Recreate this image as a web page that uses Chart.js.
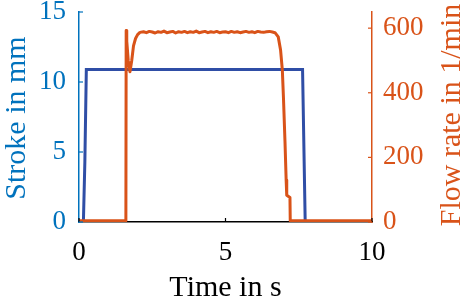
<!DOCTYPE html>
<html>
<head>
<meta charset="utf-8">
<script src="https://cdn.jsdelivr.net/npm/chart.js@4.4.1/dist/chart.umd.min.js"></script>
<style>
  html, body { margin: 0; padding: 0; background: #fff; }
  #wrap { width: 465px; height: 301px; position: relative; }
</style>
</head>
<body>
<div id="wrap"><canvas id="chart"></canvas></div>
<script>
// stroke (left axis, mm) vs time (s)
const strokeTime = [0, 0.15, 0.2, 0.25, 7.63, 7.72, 10];
const strokeMm   = [0, 0, 4.3, 10.9, 10.9, 0, 0];

// flow rate (right axis, l/min) vs time (s)
const flowTime = [0, 1.6, 1.61, 1.63, 1.68, 1.74, 1.8, 1.86, 1.93, 2.0, 2.08,
  2.2, 2.3, 2.4, 2.5, 2.6, 2.7, 2.8, 2.9, 3.0, 3.1, 3.2, 3.3, 3.4, 3.5, 3.6, 3.7, 3.8, 3.9,
  4.0, 4.1, 4.2, 4.3, 4.4, 4.5, 4.6, 4.7, 4.8, 4.9, 5.0, 5.1, 5.2, 5.3, 5.4, 5.5, 5.6, 5.7,
  5.8, 5.9, 6.0, 6.1, 6.2, 6.3, 6.4, 6.5, 6.6, 6.69, 6.8, 6.88, 6.94, 6.98, 7.03, 7.07,
  7.09, 7.2, 7.21, 10];
const flowRate = [4, 4, 593, 560, 500, 465, 500, 545, 568, 580, 587,
  589, 586, 590, 588, 585, 589, 587, 591, 586, 588, 590, 585, 589, 587, 590, 586, 589, 587,
  591, 586, 588, 590, 586, 589, 587, 590, 586, 588, 589, 586, 590, 587, 589, 586, 588, 590,
  587, 589, 586, 590, 588, 587, 589, 590, 588, 586, 573, 532, 470, 380, 250, 130,
  83, 76, 4, 4];

const xTicks = [0, 5, 10];
const strokeTicks = [0, 5, 10, 15];
const flowTicks = [0, 200, 400, 600];

const BLUE_LINE = '#2F4EA6';
const BLUE_AXIS = '#0072BD';
const ORANGE = '#D95319';
const FONT = '"Liberation Serif", "Times New Roman", serif';

function pts(xs, ys) { return xs.map((x, i) => ({ x, y: ys[i] })); }

function fixBox(size, horizontal) {
  return s => {
    if (horizontal) s.height = size; else s.width = size;
    s.paddingTop = 0; s.paddingBottom = 0; s.paddingLeft = 0; s.paddingRight = 0;
  };
}
function keepTicks(list) {
  return s => { s.ticks = list.map(v => ({ value: v })); };
}

// small inward tick marks like the original
const innerTicks = {
  id: 'innerTicks',
  afterDatasetsDraw(chart) {
    const { ctx, chartArea: a, scales } = chart;
    const len = 4;
    ctx.save();
    ctx.lineWidth = 1.2;
    ctx.strokeStyle = '#000';
    scales.x.ticks.forEach(t => {
      const px = scales.x.getPixelForValue(t.value);
      ctx.beginPath(); ctx.moveTo(px, a.bottom); ctx.lineTo(px, a.bottom - len); ctx.stroke();
    });
    ctx.strokeStyle = BLUE_AXIS;
    scales.y.ticks.forEach(t => {
      const py = scales.y.getPixelForValue(t.value);
      ctx.beginPath(); ctx.moveTo(a.left, py); ctx.lineTo(a.left + len, py); ctx.stroke();
    });
    ctx.strokeStyle = ORANGE;
    scales.y1.ticks.forEach(t => {
      const py = scales.y1.getPixelForValue(t.value);
      ctx.beginPath(); ctx.moveTo(a.right, py); ctx.lineTo(a.right - len, py); ctx.stroke();
    });
    ctx.restore();
  }
};

// axis titles (right one reads bottom-to-top, as in the original)
const axisTitles = {
  id: 'axisTitles',
  afterDraw(chart) {
    const { ctx, chartArea: a } = chart;
    const cy = (a.top + a.bottom) / 2;
    ctx.save();
    ctx.font = '30px ' + FONT;
    ctx.textAlign = 'center';
    ctx.textBaseline = 'alphabetic';
    ctx.fillStyle = '#000';
    ctx.fillText('Time in s', (a.left + a.right) / 2, a.bottom + 74);

    ctx.save();
    ctx.translate(a.left - 54, cy + 1);
    ctx.rotate(-Math.PI / 2);
    ctx.fillStyle = BLUE_AXIS;
    ctx.fillText('Stroke in mm', 0, 0);
    ctx.restore();

    ctx.save();
    ctx.translate(a.right + 88, cy - 2);
    ctx.rotate(-Math.PI / 2);
    ctx.fillStyle = ORANGE;
    ctx.fillText('Flow rate in 1/min', 0, 0);
    ctx.restore();
    ctx.restore();
  }
};

new Chart(document.getElementById('chart'), {
  type: 'line',
  data: {
    datasets: [
      { label: 'Flow rate', data: pts(flowTime, flowRate), yAxisID: 'y1',
        borderColor: ORANGE, borderWidth: 3, pointRadius: 0, tension: 0, borderJoinStyle: 'round' },
      { label: 'Stroke', data: pts(strokeTime, strokeMm), yAxisID: 'y',
        borderColor: BLUE_LINE, borderWidth: 3, pointRadius: 0, tension: 0 }
    ]
  },
  options: {
    responsive: true,
    maintainAspectRatio: false,
    animation: false,
    layout: { padding: { top: 12, left: 0, right: 0, bottom: 0 } },
    plugins: { legend: { display: false }, tooltip: { enabled: false } },
    scales: {
      x: {
        type: 'linear', min: 0, max: 10,
        grid: { display: false, drawTicks: false },
        border: { display: true, color: '#000', width: 1.5 },
        ticks: { color: '#000', font: { family: FONT, size: 27 }, padding: 15, maxRotation: 0 },
        afterBuildTicks: keepTicks(xTicks),
        afterFit: fixBox(79, true)
      },
      y: {
        type: 'linear', position: 'left', min: 0, max: 15,
        grid: { display: false, drawTicks: false },
        border: { display: true, color: BLUE_AXIS, width: 1.5 },
        ticks: { color: BLUE_AXIS, font: { family: FONT, size: 27 }, padding: 13 },
        afterBuildTicks: keepTicks(strokeTicks),
        afterFit: fixBox(79, false)
      },
      y1: {
        type: 'linear', position: 'right', min: 0, max: 650,
        grid: { display: false, drawTicks: false },
        border: { display: true, color: ORANGE, width: 1.5 },
        ticks: { color: ORANGE, font: { family: FONT, size: 27 }, padding: 11 },
        afterBuildTicks: keepTicks(flowTicks),
        afterFit: fixBox(93, false)
      }
    }
  },
  plugins: [innerTicks, axisTitles]
});
</script>
</body>
</html>
